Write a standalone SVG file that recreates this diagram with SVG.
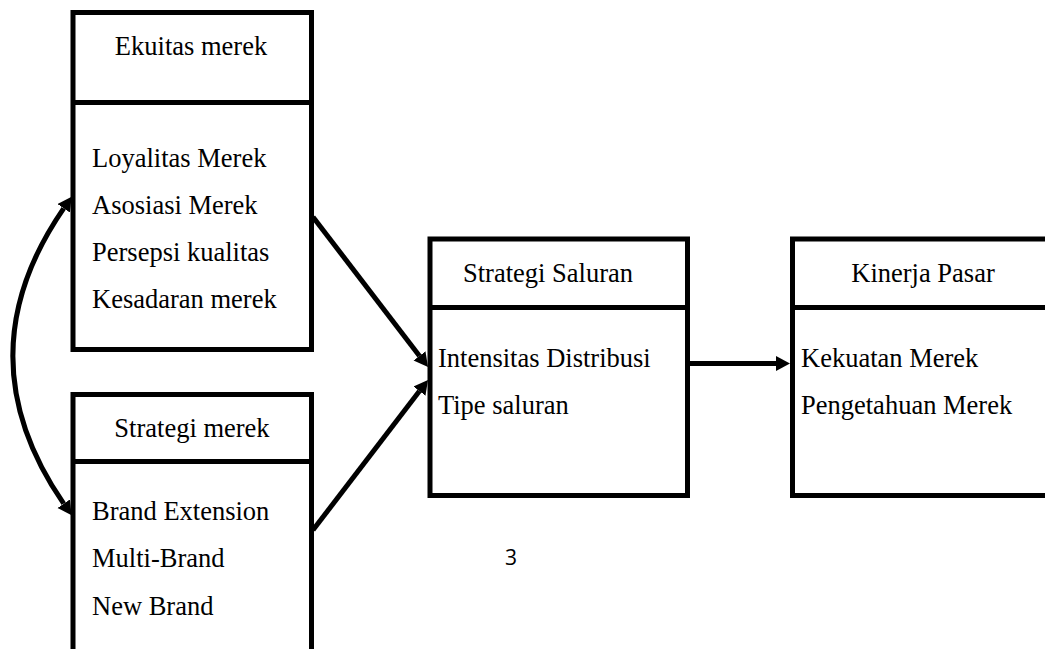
<svg xmlns="http://www.w3.org/2000/svg" width="1045" height="649" viewBox="0 0 1045 649">
<style>
.box{fill:none;stroke:#000;stroke-width:5}
.div{stroke:#000;stroke-width:5}
.t{font-family:"Liberation Serif","Times New Roman",serif;font-size:26.5px;fill:#000}
.c{text-anchor:middle}
.conn{fill:none;stroke:#000;stroke-width:5}
.num{font-family:"Open Sans","Liberation Sans",Arial,sans-serif;font-size:21px;fill:#000}
</style>
<defs>
<marker id="ah" markerUnits="userSpaceOnUse" markerWidth="16" markerHeight="16" refX="0" refY="7.5" orient="auto-start-reverse">
<path d="M0,0 L14,7.5 L0,15 z" fill="#000"/>
</marker>
</defs>
<rect width="1045" height="649" fill="#fff"/>
<g id="ekuitas">
<rect class="box" x="73" y="12.5" width="238.5" height="337"/>
<line class="div" x1="73" y1="102.5" x2="311.5" y2="102.5"/>
<text class="t c" x="191" y="55">Ekuitas merek</text>
<text class="t" x="92" y="167">Loyalitas Merek</text>
<text class="t" x="92" y="214">Asosiasi Merek</text>
<text class="t" x="92" y="261">Persepsi kualitas</text>
<text class="t" x="92" y="308">Kesadaran merek</text>
</g>
<g id="strategi-merek">
<rect class="box" x="73" y="394.5" width="238.5" height="300"/>
<line class="div" x1="73" y1="461.5" x2="311.5" y2="461.5"/>
<text class="t c" x="192" y="437">Strategi merek</text>
<text class="t" x="92" y="520">Brand Extension</text>
<text class="t" x="92" y="567">Multi-Brand</text>
<text class="t" x="92" y="615">New Brand</text>
</g>
<g id="strategi-saluran">
<rect class="box" x="430" y="239" width="257.5" height="256.5"/>
<line class="div" x1="430" y1="307.5" x2="687.5" y2="307.5"/>
<text class="t" x="463" y="282">Strategi Saluran</text>
<text class="t" x="438" y="367">Intensitas Distribusi</text>
<text class="t" x="438" y="414">Tipe saluran</text>
</g>
<g id="kinerja-pasar">
<rect class="box" x="792.5" y="239" width="300" height="256.5"/>
<line class="div" x1="792.5" y1="307.5" x2="1092.5" y2="307.5"/>
<text class="t c" x="923" y="282">Kinerja Pasar</text>
<text class="t" x="801" y="367">Kekuatan Merek</text>
<text class="t" x="801" y="414">Pengetahuan Merek</text>
</g>
<g id="connectors">
<path class="conn" d="M63.7,208.3 Q-38,356 63.7,503.7" marker-start="url(#ah)" marker-end="url(#ah)"/>
<line class="conn" x1="313" y1="217" x2="419.5" y2="355.9" marker-end="url(#ah)"/>
<line class="conn" x1="313" y1="530" x2="419.5" y2="391.1" marker-end="url(#ah)"/>
<line class="conn" x1="690" y1="363.5" x2="776" y2="363.5" marker-end="url(#ah)"/>
</g>
<text class="num" x="505" y="565">3</text>
</svg>
